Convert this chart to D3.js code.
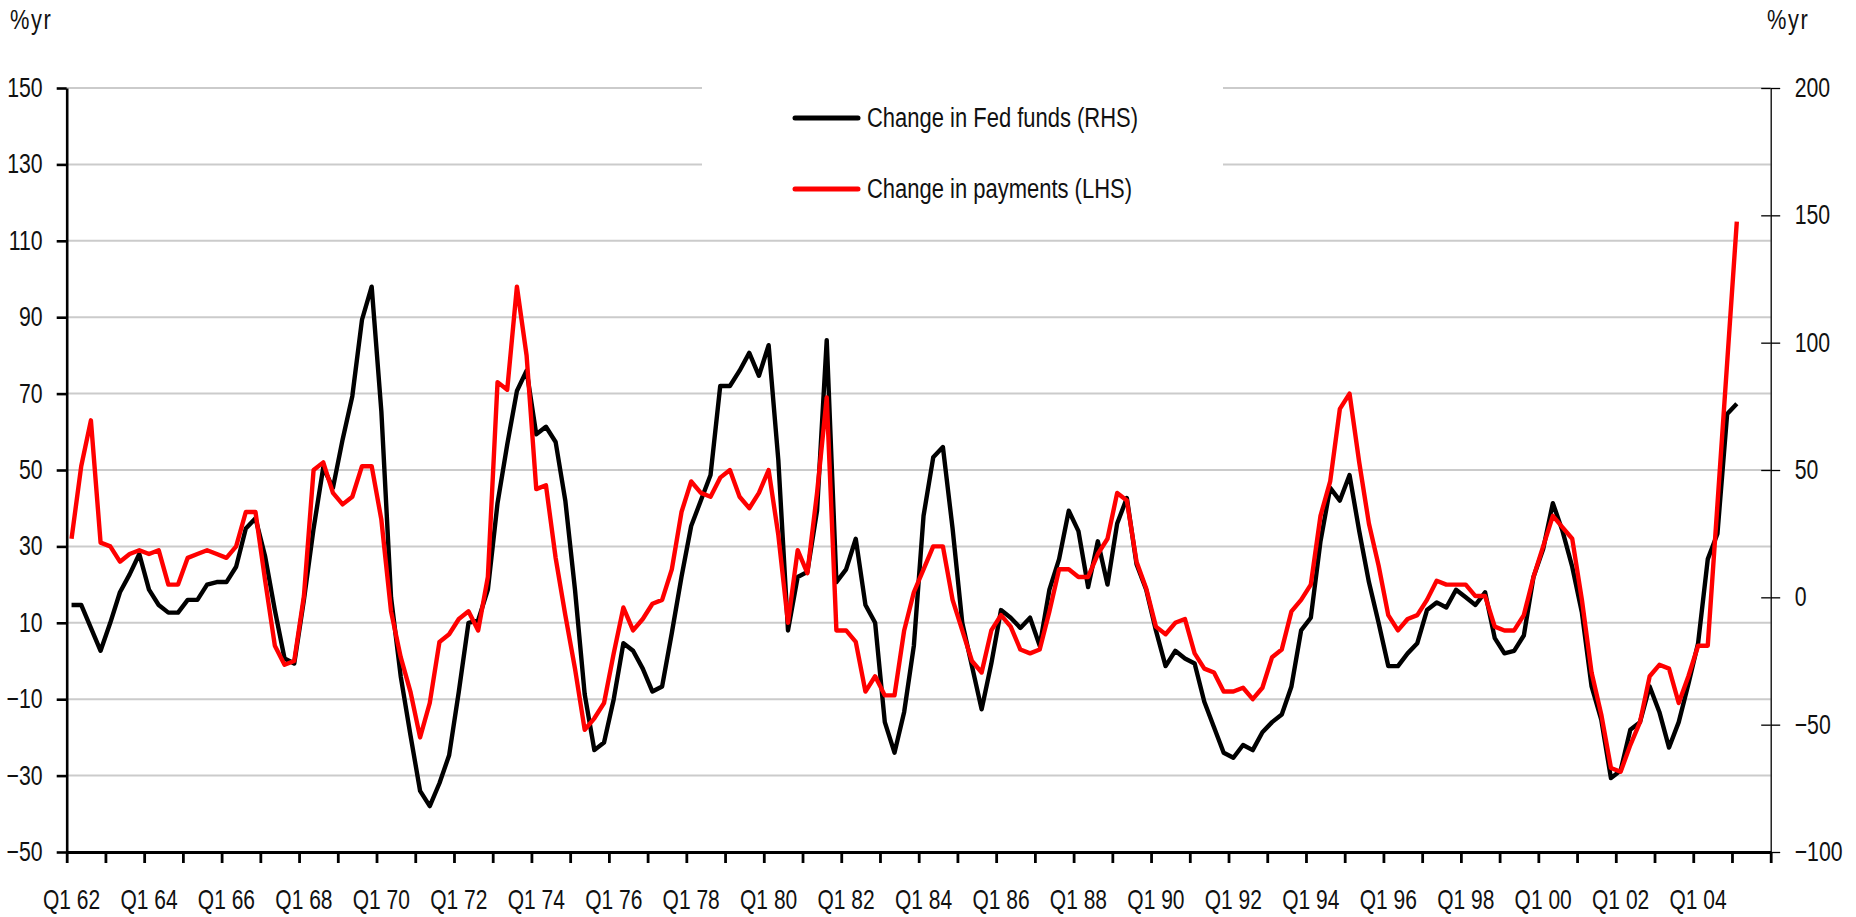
<!DOCTYPE html>
<html>
<head>
<meta charset="utf-8">
<script src="https://cdn.jsdelivr.net/npm/d3@7"></script>
<style>
  body { margin: 0; background: #fff; }
  text { font-family: 'Liberation Sans', Arial, sans-serif; font-size: 28px; fill: #111; }
</style>
</head>
<body>
<svg width="1856" height="917"></svg>
<script>
// quarterly categories, Q1 62 .. Q4 05
var years = d3.range(1962, 2006);
var quarters = [];
years.forEach(function(y) {
    ['Q1', 'Q2', 'Q3', 'Q4'].forEach(function(q) {
        quarters.push(q + ' ' + String(y).slice(2));
    });
});

// Change in payments, %yr (LHS), Q1 62 .. Q1 05
var payments = [32, 51, 63, 31, 30, 26, 28, 29, 28, 29,
    20, 20, 27, 28, 29, 28, 27, 30, 39, 39,
    21, 4, -1, 0, 17, 50, 52, 44, 41, 43,
    51, 51, 37, 13, 1, -8, -20, -11, 5, 7,
    11, 13, 8, 22, 73, 71, 98, 80, 45, 46,
    27, 12, -2, -18, -15, -11, 2, 14, 8, 11,
    15, 16, 24, 39, 47, 44, 43, 48, 50, 43,
    40, 44, 50, 33, 10, 29, 23, 44, 69, 8,
    8, 5, -8, -4, -9, -9, 8, 18, 24, 30,
    30, 16, 8, 0, -3, 8, 12, 9, 3, 2,
    3, 13, 24, 24, 22, 22, 28, 32, 44, 42,
    26, 19, 9, 7, 10, 11, 2, -2, -3, -8,
    -8, -7, -10, -7, 1, 3, 13, 16, 20, 38,
    47, 66, 70, 52, 36, 25, 12, 8, 11, 12,
    16, 21, 20, 20, 20, 17, 17, 9, 8, 8,
    12, 22, 30, 38, 35, 32, 16, -3, -14, -28,
    -29, -22, -16, -4, -1, -2, -11, -4, 4, 4,
    41, 78, 115];

// Change in Fed funds, %yr (RHS), Q1 62 .. Q1 05
var fedFunds = [-3, -3, -12, -21, -10, 2, 9, 17, 3, -3,
    -6, -6, -1, -1, 5, 6, 6, 12, 27, 31,
    16, -5, -24, -26, -1, 27, 51, 43, 62, 79,
    109, 122, 73, 0, -31, -54, -76, -82, -73, -62,
    -37, -10, -9, 3, 37, 60, 81, 89, 64, 67,
    61, 38, 3, -38, -60, -57, -40, -18, -21, -28,
    -37, -35, -14, 8, 28, 38, 48, 83, 83, 89,
    96, 87, 99, 54, -13, 8, 10, 34, 101, 6,
    11, 23, -3, -10, -49, -61, -45, -19, 32, 55,
    59, 27, -10, -27, -44, -26, -5, -8, -12, -8,
    -19, 3, 15, 34, 26, 4, 22, 5, 29, 39,
    13, 3, -13, -27, -21, -24, -26, -41, -51, -61,
    -63, -58, -60, -53, -49, -46, -35, -13, -8, 22,
    43, 38, 48, 26, 6, -10, -27, -27, -22, -18,
    -5, -2, -4, 3, 0, -3, 2, -16, -22, -21,
    -15, 8, 19, 37, 26, 12, -6, -35, -48, -71,
    -68, -52, -49, -35, -45, -59, -49, -34, -18, 15,
    25, 72, 76];

var leftTicks = [-50, -30, -10, 10, 30, 50, 70, 90, 110, 130, 150];
var rightTicks = [-100, -50, 0, 50, 100, 150, 200];
var seriesNames = ['Change in Fed funds (RHS)', 'Change in payments (LHS)'];
var seriesColors = ['#000000', '#ff0000'];

var svg = d3.select('svg');
var plot = { l: 66.7, r: 1770.7, t: 88, b: 852 };

var x = d3.scaleBand().domain(quarters).range([plot.l, plot.r]);
var xIdx = d3.scaleLinear().domain([0, quarters.length]).range([plot.l, plot.r]);
var yL = d3.scaleLinear().domain([-50, 150]).range([plot.b, plot.t]);
var yR = d3.scaleLinear().domain([-100, 200]).range([plot.b, plot.t]);

function cx(i) { return x(quarters[i]) + x.bandwidth() / 2; }

// gridlines
svg.append('g').selectAll('line')
    .data(leftTicks.filter(function(v) { return v > -50; }))
    .join('line')
    .attr('x1', plot.l).attr('x2', plot.r)
    .attr('y1', d => yL(d)).attr('y2', d => yL(d))
    .attr('stroke', '#cbcbcb').attr('stroke-width', 2);

// white legend box sits over the gridlines
svg.append('rect')
    .attr('x', 702).attr('y', 62).attr('width', 521).attr('height', 152)
    .attr('fill', '#fff');

// series
var lineR = d3.line().x((d, i) => cx(i)).y(d => yR(d));
var lineL = d3.line().x((d, i) => cx(i)).y(d => yL(d));

svg.append('path').datum(fedFunds)
    .attr('d', lineR).attr('fill', 'none')
    .attr('stroke', seriesColors[0]).attr('stroke-width', 4.4)
    .attr('stroke-linejoin', 'round');

svg.append('path').datum(payments)
    .attr('d', lineL).attr('fill', 'none')
    .attr('stroke', seriesColors[1]).attr('stroke-width', 4.4)
    .attr('stroke-linejoin', 'round');

// left axis
var leftAxis = svg.append('g')
    .attr('transform', `translate(${plot.l},0)`)
    .call(d3.axisLeft(yL).tickValues(leftTicks).tickSize(10).tickSizeOuter(0));
leftAxis.attr('font-size', null).attr('font-family', null);
leftAxis.selectAll('path, line').attr('stroke', '#000').attr('stroke-width', 2.6);
leftAxis.selectAll('text').attr('x', null).attr('dy', null)
    .attr('transform', 'translate(-24,8.5) scale(0.76,1)');

// right axis
var rightAxis = svg.append('g')
    .attr('transform', `translate(${plot.r},0)`)
    .call(d3.axisRight(yR).tickValues(rightTicks).tickSize(9.5).tickSizeOuter(0));
rightAxis.attr('font-size', null).attr('font-family', null);
rightAxis.selectAll('.tick').append('line').attr('x1', -9.5).attr('x2', 0);
rightAxis.selectAll('path, line').attr('stroke', '#000').attr('stroke-width', 1.3);
rightAxis.selectAll('text').attr('x', null).attr('dy', null)
    .attr('transform', 'translate(24,8.5) scale(0.76,1)');

// bottom axis: ticks every year at band edges
var bottomAxis = svg.append('g')
    .attr('transform', `translate(0,${plot.b})`)
    .call(d3.axisBottom(xIdx).tickValues(d3.range(0, quarters.length + 1, 4))
        .tickSize(11).tickSizeOuter(0).tickFormat(''));
bottomAxis.selectAll('path, line').attr('stroke', '#000').attr('stroke-width', 2.8);

// category labels every 2 years
svg.append('g').selectAll('text')
    .data(quarters.filter((q, i) => i % 8 === 0))
    .join('text')
    .attr('text-anchor', 'middle')
    .attr('transform', d => `translate(${x(d) + x.bandwidth() / 2},909) scale(0.75,1)`)
    .text(d => d);

// unit labels
svg.append('text').attr('transform', 'translate(10,29) scale(0.78,1)')
    .attr('letter-spacing', 2).text('%yr');
svg.append('text').attr('transform', 'translate(1767,29) scale(0.78,1)')
    .attr('letter-spacing', 2).text('%yr');

// legend
var legendY = [118, 189];
seriesNames.forEach(function(name, i) {
    svg.append('line')
        .attr('x1', 795).attr('x2', 858)
        .attr('y1', legendY[i]).attr('y2', legendY[i])
        .attr('stroke', seriesColors[i]).attr('stroke-width', 5)
        .attr('stroke-linecap', 'round');
    svg.append('text')
        .attr('transform', `translate(867,${legendY[i] + 9}) scale(0.785,1)`)
        .text(name);
});
</script>
</body>
</html>
